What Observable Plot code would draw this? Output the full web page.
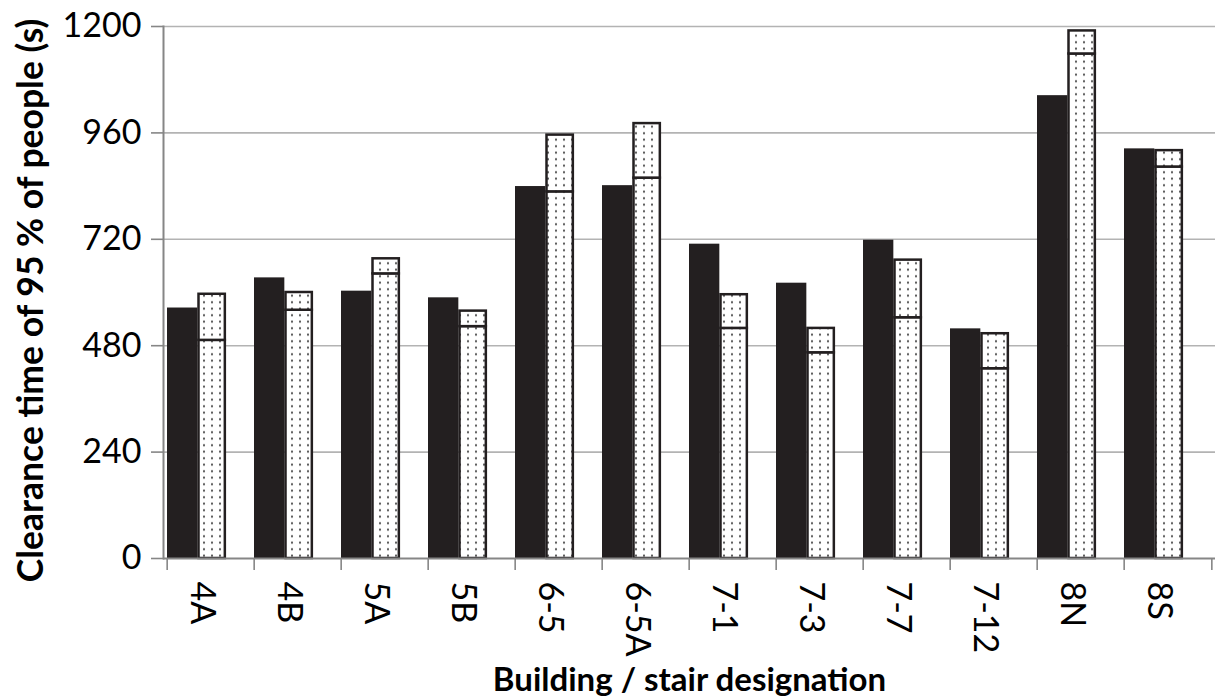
<!DOCTYPE html>
<html>
<head>
<meta charset="utf-8">
<script src="https://cdn.jsdelivr.net/npm/d3@7"></script>
<script src="https://cdn.jsdelivr.net/npm/@observablehq/plot@0.6"></script>
<style>
  body { margin: 0; background: #fff; }
</style>
</head>
<body>
<div id="chart"></div>
<script>
// ---- data ----
const categories = ["4A", "4B", "5A", "5B", "6-5", "6-5A", "7-1", "7-3", "7-7", "7-12", "8N", "8S"];
const solidValues = [565, 633, 603, 588, 839, 841, 709, 621, 718, 518, 1044, 924];
const dottedLowerValues = [492, 560, 642, 523, 827, 858, 519, 464, 543, 428, 1138, 883];
const dottedTotalValues = [596, 600, 676, 558, 955, 981, 595, 519, 673, 507, 1190, 920];
const yTicks = [0, 240, 480, 720, 960, 1200];
const xTitle = "Building / stair designation";
const yTitle = "Clearance time of 95 % of people (s)";

const solid = categories.map((c, i) => ({cat: c, v: solidValues[i]}));
const lower = categories.map((c, i) => ({cat: c, y1: 0, y2: dottedLowerValues[i]}));
const upper = categories.map((c, i) => ({cat: c, y1: dottedLowerValues[i], y2: dottedTotalValues[i]}));

const W = 1221, H = 698, mL = 163, mR = 6, mT = 26, mB = 140;
const bw = (W - mL - mR) / categories.length;
const axisGray = "#868686";
const ink = "#231f20";

const chart = Plot.plot({
  width: W, height: H,
  marginTop: mT, marginBottom: mB, marginLeft: mL, marginRight: mR,
  style: {fontFamily: "Lato, 'Open Sans', sans-serif", fontSize: "34px", color: "#000", background: "#fff"},
  x: {domain: categories, padding: 0, label: null},
  y: {domain: [0, 1200], label: null},
  marks: [
    Plot.gridY(yTicks.slice(1), {stroke: "#b3b3b3", strokeOpacity: 1, strokeWidth: 1.6}),
    Plot.barY(solid, {x: "cat", y: "v", fill: ink, insetLeft: 0, insetRight: bw - 31}),
    Plot.barY(lower, {x: "cat", y1: "y1", y2: "y2", fill: "url(#dots)", stroke: ink, strokeWidth: 2.5, insetLeft: 31.5, insetRight: bw - 58.5}),
    Plot.barY(upper, {x: "cat", y1: "y1", y2: "y2", fill: "url(#dots)", stroke: ink, strokeWidth: 2.5, insetLeft: 31.5, insetRight: bw - 58.5}),
    Plot.ruleY([0], {stroke: axisGray, strokeWidth: 2}),
    Plot.frame({anchor: "left", stroke: axisGray, strokeWidth: 2}),
    Plot.axisY({ticks: yTicks, tickSize: 12, tickPadding: 10, stroke: axisGray, strokeWidth: 1.6, tickFormat: d => String(d), fontSize: 34, fill: "#000"}),
    Plot.axisX({tickSize: 12, text: null, dx: -bw / 2, stroke: axisGray, strokeWidth: 1.6}),
    Plot.axisX({ticks: [categories[categories.length - 1]], tickSize: 12, text: null, dx: bw / 2, stroke: axisGray, strokeWidth: 1.6}),
    Plot.axisX({tickSize: 0, tickPadding: 23, tickRotate: 90, textAnchor: "start", lineAnchor: "middle", dx: -9, fontSize: 34, fill: "#000"}),
    Plot.text([xTitle], {frameAnchor: "bottom", dy: 132, lineAnchor: "bottom", fontWeight: "bold", fontSize: 33, fill: "#000"}),
    Plot.text([yTitle], {frameAnchor: "left", textAnchor: "middle", dx: -132, dy: 8, rotate: -90, fontWeight: "bold", fontSize: 35.5, fill: "#000"})
  ]
});

const svg = chart.tagName.toLowerCase() === "svg" ? chart : chart.querySelector("svg");
const defs = d3.select(svg).insert("defs", ":first-child");
const pat = defs.append("pattern").attr("id", "dots").attr("patternUnits", "userSpaceOnUse").attr("width", 8).attr("height", 6.5);
pat.append("rect").attr("width", 8).attr("height", 6.5).attr("fill", "#fff");
pat.append("circle").attr("cx", 4).attr("cy", 3.25).attr("r", 1.05).attr("fill", "#444");

document.getElementById("chart").appendChild(chart);
</script>
</body>
</html>
